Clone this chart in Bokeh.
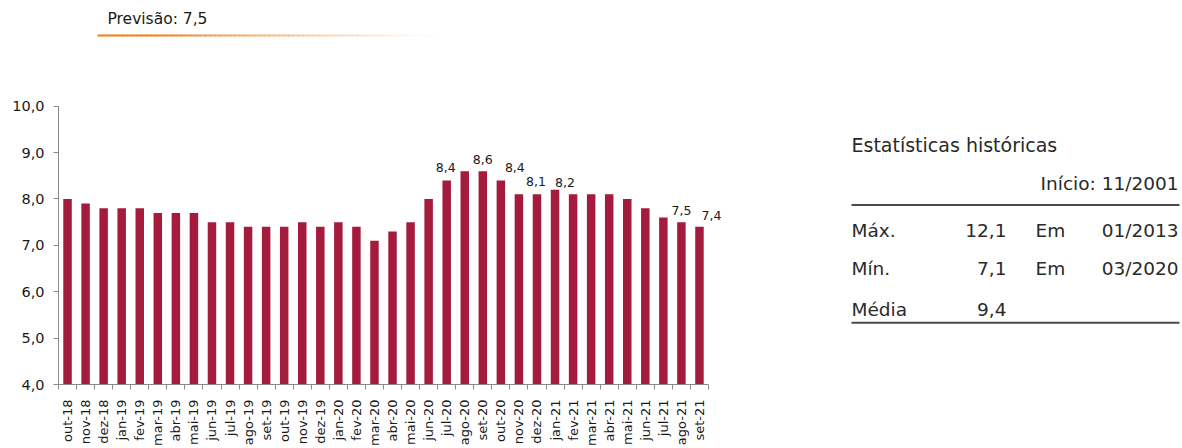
import math
from bokeh.plotting import figure
from bokeh.models import Range1d, FixedTicker, Label, LabelSet, BoxAnnotation, ColumnDataSource
from bokeh.core.properties import value
from bokeh.embed import file_html
from bokeh.resources import INLINE

# ---------------- data ----------------
months = ["out-18", "nov-18", "dez-18", "jan-19", "fev-19", "mar-19", "abr-19", "mai-19",
          "jun-19", "jul-19", "ago-19", "set-19", "out-19", "nov-19", "dez-19", "jan-20",
          "fev-20", "mar-20", "abr-20", "mai-20", "jun-20", "jul-20", "ago-20", "set-20",
          "out-20", "nov-20", "dez-20", "jan-21", "fev-21", "mar-21", "abr-21", "mai-21",
          "jun-21", "jul-21", "ago-21", "set-21"]
rates = [8.0, 7.9, 7.8, 7.8, 7.8, 7.7, 7.7, 7.7,
         7.5, 7.5, 7.4, 7.4, 7.4, 7.5, 7.4, 7.5,
         7.4, 7.1, 7.3, 7.5, 8.0, 8.4, 8.6, 8.6,
         8.4, 8.1, 8.1, 8.2, 8.1, 8.1, 8.1, 8.0,
         7.8, 7.6, 7.5, 7.4]
labeled_months = ["jul-20", "set-20", "out-20", "dez-20", "jan-21", "ago-21", "set-21"]
y_ticks = [4, 5, 6, 7, 8, 9, 10]

forecast_text = "Previsão: 7,5"
stats_title = "Estatísticas históricas"
stats_start = "Início: 11/2001"
stat_names = ["Máx.", "Mín.", "Média"]
stat_values = ["12,1", "7,1", "9,4"]
stat_em = ["Em", "Em", ""]
stat_dates = ["01/2013", "03/2020", ""]

# ---------------- styles / layout ----------------
BAR = "#A51B3E"
AXIS = "#8a8a8a"
TXT = "#1a1a1a"
TXT2 = "#2a2a2a"
FONT = "DejaVu Sans"

W, H = 1182, 448
AX_L, AX_R, AX_T, AX_B = 58, 708, 106, 385   # chart axes box (page px)
N = len(months)
VMIN, VMAX = 4.0, 10.0
px_per_x = (AX_R - AX_L) / N
px_per_y = (AX_B - AX_T) / (VMAX - VMIN)


def X(px):
    return (px - AX_L) / px_per_x


def Y(py):
    return VMIN + (AX_B - py) / px_per_y


p = figure(width=W, height=H, output_backend="svg", toolbar_location=None,
           x_range=Range1d(0, X(W)), y_range=Range1d(VMIN, Y(0)),
           min_border_left=AX_L, min_border_right=0,
           min_border_top=0, min_border_bottom=H - AX_B)
p.outline_line_color = None
p.grid.visible = False
p.background_fill_color = "white"
p.border_fill_color = "white"

xs = [i + 0.5 for i in range(N)]
src = ColumnDataSource(dict(x=xs, top=rates))
p.vbar(x="x", top="top", bottom=VMIN, width=0.47, source=src, fill_color=BAR, line_color=None)

# axes
xa = p.xaxis[0]
xa.bounds = (0, N)
xa.ticker = FixedTicker(ticks=xs, minor_ticks=list(range(N + 1)))
xa.major_label_overrides = {x: m for x, m in zip(xs, months)}
xa.major_label_orientation = math.pi / 2
xa.major_tick_out = 0
xa.major_tick_in = 0
xa.minor_tick_out = 5
xa.minor_tick_in = 0
xa.minor_tick_line_color = AXIS
xa.axis_line_color = AXIS
xa.major_label_standoff = 10
xa.major_label_text_font = FONT
xa.major_label_text_font_size = "13px"
xa.major_label_text_color = TXT

ya = p.yaxis[0]
ya.bounds = (VMIN, VMAX)
ya.ticker = FixedTicker(ticks=y_ticks, minor_ticks=[])
ya.major_label_overrides = {t: f"{t:.1f}".replace(".", ",") for t in y_ticks}
ya.major_tick_out = 5
ya.major_tick_in = 0
ya.major_tick_line_color = AXIS
ya.axis_line_color = AXIS
ya.major_label_standoff = 9
ya.major_label_text_font = FONT
ya.major_label_text_font_size = "14.5px"
ya.major_label_text_color = TXT

# bar value labels
label_offsets = {"jul-20": (-1, 8), "set-20": (0, 7), "out-20": (14, 8), "dez-20": (-1, 8),
                 "jan-21": (10, 3), "ago-21": (0, 7), "set-21": (12, 7)}
lx, ly, lt, ldx, ldy = [], [], [], [], []
for m in labeled_months:
    i = months.index(m)
    lx.append(xs[i])
    ly.append(rates[i])
    lt.append(f"{rates[i]:.1f}".replace(".", ","))
    dx, dy = label_offsets[m]
    ldx.append(dx)
    ldy.append(dy)
lsrc = ColumnDataSource(dict(x=lx, y=ly, t=lt, dx=ldx, dy=ldy))
p.add_layout(LabelSet(x="x", y="y", text="t", x_offset="dx", y_offset="dy", source=lsrc,
                      text_align="center", text_baseline="alphabetic",
                      text_font=value(FONT), text_font_size=value("12.5px"),
                      text_color=TXT))


def add_text(txt, px, py, size, align="left", color=TXT2):
    if not txt:
        return
    p.add_layout(Label(x=X(px), y=Y(py), text=txt, text_align=align,
                       text_baseline="alphabetic", text_font=FONT,
                       text_font_size=size, text_color=color))


def add_rule(px0, px1, py, thick, color, alpha=1.0):
    p.add_layout(BoxAnnotation(left=X(px0), right=X(px1), top=Y(py - thick / 2),
                               bottom=Y(py + thick / 2), fill_color=color,
                               fill_alpha=alpha, line_color=None, level="overlay"))


# header with fading orange rule
add_text(forecast_text, 107, 19, "15.5px", color=TXT)
n = 70
g0, g1 = 97, 440
for k in range(n):
    a0 = g0 + (g1 - g0) * k / n
    a1 = g0 + (g1 - g0) * (k + 1) / n + 0.5
    f = k / n
    alpha = 1.0 if f < 0.15 else max(0.0, 1.0 - (f - 0.15) / 0.85) ** 1.3
    add_rule(a0, a1, 35, 2, "#F07E1A", alpha)

# statistics table
add_text(stats_title, 851, 145, "19px")
add_text(stats_start, 1178, 183, "18.5px", align="right")
add_rule(851, 1179, 205, 2, "#4a4a4a")
row_base = [231, 269, 310]
for name, val, em, dt, by in zip(stat_names, stat_values, stat_em, stat_dates, row_base):
    add_text(name, 851, by, "18.5px")
    add_text(val, 1006, by, "18.5px", align="right")
    add_text(em, 1035, by, "18.5px")
    add_text(dt, 1178, by, "18.5px", align="right")
add_rule(851, 1179, 323, 2, "#4a4a4a")

open("out.html", "w").write(file_html(p, INLINE))
